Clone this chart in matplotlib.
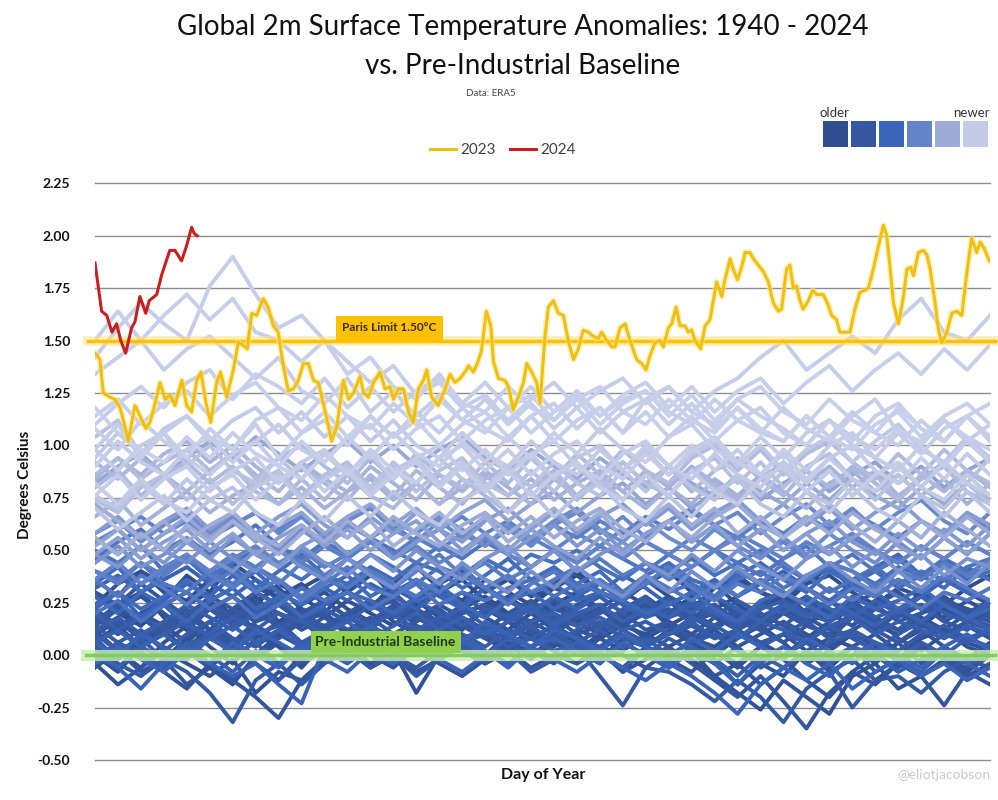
import numpy as np
import matplotlib.pyplot as plt
from matplotlib.colors import LinearSegmentedColormap

plt.rcParams['font.family'] = ['Lato', 'DejaVu Sans']

# anomalies in hundredths of a degree, 40 readings spread over the year, one string per year
t1940s = [
    "30 22 14 26 38 30 18 24 34 28 20 32 40 28 22 30 36 26 18 24 32 28 20 26 34 40 30 22 28 36 26 18 24 32 28 20 30 38 30 24",
    "36 28 40 34 24 30 44 36 26 32 38 30 22 34 42 32 26 36 30 24 34 40 30 26 36 28 22 32 38 30 24 34 42 32 28 36 30 24 32 38",
    "22 10 18 26 14 8 20 28 16 22 12 18 26 20 10 16 24 18 12 20 26 16 10 18 24 14 20 28 18 12 22 16 8 18 26 20 14 22 16 20",
    "16 24 30 18 12 22 28 20 14 24 30 22 16 20 26 18 12 22 28 20 24 16 22 30 24 18 26 20 14 22 28 20 16 24 18 12 20 26 22 18",
    "24 34 40 30 26 36 42 32 28 34 24 30 38 32 26 34 40 30 36 28 32 38 30 26 34 40 32 28 36 30 26 34 38 30 24 32 28 36 30 26",
    "28 20 14 24 30 22 16 26 32 22 18 26 20 14 24 30 22 28 20 16 24 30 22 18 26 20 28 34 24 18 22 28 20 14 24 30 22 18 26 20",
    "12 2 -6 6 14 4 -4 8 16 6 0 10 4 -2 8 14 6 0 10 4 12 6 -2 8 4 12 6 0 8 14 6 -4 2 10 4 -2 8 12 4 0",
    "6 14 2 -8 4 12 6 -2 10 16 8 2 12 6 0 10 14 8 2 10 4 12 8 2 10 16 8 4 12 6 0 8 -6 4 10 2 8 14 6 2",
    "4 -2 8 14 6 -4 2 10 4 -6 6 12 4 -2 8 14 6 10 4 12 6 0 8 14 10 4 10 2 -6 4 10 2 8 4 -4 6 12 4 -2 6",
    "0 -8 4 10 2 -6 -14 0 6 -4 4 10 2 -2 6 0 8 12 4 -2 6 10 2 -8 4 0 6 -2 -14 -4 -10 2 -6 4 -2 6 -4 2 -8 0",
]
t1950s = [
    "-4 -14 -6 2 -4 -10 -2 -18 -8 -12 -2 4 -4 2 -18 0 6 -2 4 8 2 -4 4 0 -6 2 -2 -10 -18 -26 -12 -20 -28 -10 -4 -16 -10 -2 -6 2",
    "6 14 4 -2 8 16 6 0 10 4 12 6 14 8 2 10 16 10 4 12 8 2 10 16 8 14 6 12 4 10 16 10 4 12 18 8 2 10 14 8",
    "18 10 20 14 6 16 22 12 8 18 12 20 26 16 10 18 14 22 16 8 14 20 12 18 24 16 10 18 12 20 14 8 16 22 14 10 18 12 20 16",
    "14 22 28 20 12 24 18 26 20 14 22 16 24 30 20 14 22 18 26 20 12 18 24 16 22 28 20 14 22 18 24 16 20 26 18 12 20 24 18 22",
    "8 -2 6 12 2 -6 4 -4 -12 0 6 -2 4 10 2 -4 -10 -2 6 2 -4 6 0 -6 4 -2 -8 2 -4 -14 -6 2 -8 -2 -12 -4 4 -2 -8 0",
    "-2 6 0 -8 -16 -4 -12 -2 6 -4 2 8 0 -6 4 10 2 -4 6 0 8 2 -4 6 0 -6 2 -10 -4 4 -2 -12 -20 -8 0 -6 4 -2 -10 -4",
    "-6 2 -8 -2 -14 -6 -12 -20 -30 -12 -2 4 -6 0 -8 -2 4 -4 2 -6 0 -4 2 -8 -2 4 -4 -12 -20 -10 -22 -35 -18 -8 -14 -4 -10 -24 -8 -14",
    "10 18 8 14 22 12 6 16 20 12 18 10 16 24 14 8 18 12 20 16 10 18 22 14 20 26 16 22 18 24 30 20 26 18 24 30 22 28 20 26",
    "30 24 34 26 18 28 22 30 24 16 24 30 22 26 18 24 30 20 26 22 16 24 28 20 26 18 22 28 20 14 22 26 18 24 30 20 16 24 18 22",
    "14 22 18 10 20 26 16 22 14 20 26 18 12 22 16 24 18 12 20 26 18 14 22 16 20 26 18 24 16 12 20 14 22 18 12 20 24 16 22 18",
]
t1960s = [
    "10 16 8 14 22 12 4 14 8 16 20 12 18 10 16 22 14 8 16 12 18 10 14 20 12 16 8 14 20 12 6 14 10 18 12 6 14 10 16 12",
    "22 14 20 26 18 12 22 16 24 18 12 20 26 18 22 16 20 24 18 14 22 18 24 16 20 26 18 12 20 16 22 18 12 20 24 16 20 26 18 22",
    "16 24 18 12 20 26 18 24 14 20 26 18 14 22 18 12 20 24 16 22 18 14 20 26 18 22 16 20 12 18 24 16 20 14 22 18 24 16 12 20",
    "20 12 18 24 16 22 14 20 28 18 14 20 16 22 18 12 20 24 18 22 26 20 14 22 28 20 24 18 26 20 14 22 18 24 16 12 20 26 18 14",
    "4 -4 -10 -2 -8 -18 -32 -12 -4 -14 -4 2 -6 0 -10 -2 4 -4 2 -8 -2 4 -10 -24 -6 -8 -14 -22 -12 -20 -32 -16 -8 -25 -12 -10 -18 -8 -2 -6",
    "-2 6 0 -6 4 10 2 -4 -12 -2 4 -2 6 0 -6 2 8 2 -4 4 10 4 -2 6 0 8 2 -4 4 -6 0 6 -2 4 -8 -2 6 0 -4 2",
    "14 6 12 2 10 16 8 4 12 18 10 4 12 6 14 10 4 12 8 14 6 12 16 8 4 10 14 8 12 6 10 16 8 12 6 2 10 14 8 12",
    "6 12 4 10 16 8 2 10 14 6 12 8 14 6 10 16 10 4 12 8 14 8 4 12 6 10 16 8 12 4 10 6 14 8 2 10 16 10 6 12",
    "10 2 8 -2 4 10 0 6 -4 2 8 4 10 2 6 0 8 12 4 8 2 6 12 4 8 0 6 10 2 -4 4 -2 6 10 2 -2 6 0 8 4",
    "12 18 10 16 24 18 12 20 26 18 22 16 24 18 26 20 14 22 18 24 16 22 28 20 26 18 24 20 14 22 26 20 16 24 18 22 28 20 16 24",
]
t1970s = [
    "20 12 18 24 14 10 18 12 20 16 10 18 14 20 12 18 22 14 10 16 20 14 18 12 16 10 18 14 8 16 12 6 14 18 10 16 12 8 14 10",
    "0 -6 4 -2 6 0 -8 2 -4 6 2 -4 4 10 2 -2 6 0 8 4 -2 6 0 -6 2 -4 4 -2 -10 0 -6 2 -4 4 0 -8 -2 4 -4 2",
    "6 12 4 10 2 8 14 6 12 4 10 16 8 14 20 12 18 10 16 22 14 20 24 16 22 18 26 20 16 24 20 28 22 18 26 20 28 24 18 26",
    "32 38 30 36 42 34 28 36 30 24 32 26 34 28 22 30 24 32 26 20 28 22 30 24 18 26 20 28 22 16 24 18 26 20 14 22 16 24 18 12",
    "2 -6 -16 -4 4 -4 -10 -4 -14 -23 4 10 2 -4 6 0 8 2 -6 4 8 2 -4 6 0 -6 2 -4 -14 -2 4 -4 -10 0 6 -2 -8 2 -4 -10",
    "6 0 10 4 -2 8 2 12 6 0 10 4 14 8 2 12 6 16 10 4 12 8 2 10 4 -2 8 2 10 4 -2 8 2 -4 6 0 -6 4 10 2",
    "-4 4 -2 -8 2 -4 6 0 -6 4 -2 -8 2 -4 4 -2 -8 0 -4 2 -2 -8 0 -6 -12 -4 -10 -18 -28 -14 -6 -12 -4 -16 -8 -2 -10 -4 -12 -6",
    "22 30 18 26 34 28 38 30 24 32 26 34 40 30 36 28 22 32 38 30 34 26 30 38 32 24 30 36 28 34 40 32 26 34 30 22 28 36 30 26",
    "28 20 30 24 16 26 32 22 28 18 24 30 26 20 28 34 24 18 26 30 22 28 34 26 20 24 30 22 16 26 30 24 18 28 22 26 32 24 18 22",
    "24 30 22 28 36 26 32 40 30 24 32 38 28 34 26 30 38 32 26 34 40 30 36 28 34 42 34 28 38 44 36 30 40 34 42 48 38 32 42 36",
]
t1980s = [
    "34 42 30 38 46 36 42 32 40 48 38 34 42 36 44 40 32 38 46 36 42 34 40 30 38 44 36 32 40 34 28 36 42 34 40 32 38 44 36 40",
    "50 44 52 40 46 38 44 50 42 36 44 40 48 42 34 42 38 46 40 48 44 50 42 36 44 40 46 38 44 50 42 36 44 40 34 42 38 46 40 36",
    "20 26 16 24 30 22 28 18 24 32 26 30 22 28 34 24 30 26 32 36 28 34 30 26 36 30 34 28 36 40 32 38 30 36 42 34 40 36 42 46",
    "46 54 60 50 56 48 54 62 52 46 54 48 56 50 44 52 46 54 48 42 50 44 52 46 40 48 42 50 44 38 46 52 42 48 40 46 36 44 38 42",
    "40 36 44 34 30 40 34 42 36 28 36 32 40 34 28 36 42 32 38 30 36 42 34 30 38 32 26 34 28 36 30 24 32 26 34 28 22 30 26 32",
    "36 28 38 32 24 34 40 30 36 26 34 42 32 28 36 30 38 32 24 34 40 32 36 28 34 42 32 26 34 30 38 32 24 32 28 36 30 38 32 26",
    "36 44 34 40 48 38 32 42 34 44 38 46 40 32 40 48 38 44 36 42 50 40 46 38 44 36 42 50 40 34 44 36 44 40 32 40 36 44 38 46",
    "40 34 44 38 46 40 48 42 50 44 52 46 54 48 56 50 58 52 60 54 62 56 64 58 66 60 68 62 56 64 58 66 60 68 62 56 64 58 66 60",
    "54 60 66 58 64 56 62 68 60 66 58 64 56 62 54 60 66 58 64 56 50 58 52 60 54 48 56 50 58 52 46 54 48 56 50 44 52 46 54 48",
    "36 44 34 42 48 40 46 52 44 50 42 48 54 46 52 44 50 56 48 42 50 44 52 46 54 48 42 50 56 48 54 46 52 58 50 44 52 46 54 48",
]
t1990s = [
    "54 60 50 58 64 56 62 68 58 66 56 64 70 60 54 64 56 66 60 52 62 68 58 66 56 64 70 62 68 58 66 72 62 70 60 68 74 64 58 68",
    "58 64 54 62 68 58 66 56 50 60 52 62 56 64 58 66 60 52 62 56 64 70 60 54 64 56 50 60 52 46 56 48 58 50 44 54 46 56 48 58",
    "56 48 58 50 44 54 46 40 50 42 36 46 38 32 42 34 44 36 30 40 32 42 34 28 38 30 40 32 42 34 28 38 44 36 30 40 32 42 34 44",
    "44 52 42 48 56 46 40 50 42 52 44 38 48 40 50 42 36 46 52 42 50 40 48 54 44 38 48 40 50 42 36 46 52 42 50 40 48 38 46 42",
    "48 42 52 44 54 46 56 48 42 52 58 48 56 46 54 60 50 58 48 56 62 52 60 50 58 64 54 62 52 60 50 58 64 54 48 58 50 60 52 62",
    "58 66 56 64 70 60 68 58 66 72 62 56 66 58 68 60 54 64 70 60 68 58 66 72 62 70 60 68 74 64 72 62 70 60 68 74 64 58 68 62",
    "48 56 46 54 60 50 58 48 56 62 52 60 50 58 64 54 48 58 50 60 52 46 56 48 58 64 54 62 52 60 50 58 48 56 62 52 46 56 48 58",
    "52 60 50 58 66 56 64 54 62 68 58 66 72 62 70 60 68 74 64 72 78 68 76 82 72 80 70 78 84 74 82 88 78 86 92 82 90 80 88 94",
    "82 90 96 86 94 102 94 104 96 88 96 102 92 100 90 98 104 94 88 98 90 84 94 86 80 90 82 76 86 78 72 82 74 84 76 70 80 72 82 74",
    "72 64 56 64 54 62 68 58 52 62 54 64 56 66 58 52 62 68 58 66 56 64 70 60 54 64 56 66 72 62 56 66 58 68 60 54 64 56 66 58",
]
t2000s = [
    "56 48 58 50 62 54 64 56 48 58 66 56 64 52 60 68 58 66 54 62 70 60 68 56 64 72 62 70 58 66 56 64 72 62 54 64 56 68 60 52",
    "66 74 62 70 78 68 76 82 72 80 70 78 84 74 82 72 80 86 76 84 74 82 88 78 70 80 72 84 76 86 78 70 82 88 78 86 76 84 72 82",
    "84 94 86 96 102 92 100 90 82 92 84 78 90 82 74 86 78 88 80 72 84 76 86 78 88 80 90 82 74 84 92 82 90 80 88 76 84 92 82 74",
    "92 84 94 86 78 88 96 86 78 90 82 74 86 76 88 80 72 84 90 80 88 76 86 92 82 90 78 88 94 84 76 88 80 90 82 74 86 78 88 80",
    "80 88 76 86 92 82 90 78 72 84 74 86 76 70 82 72 84 76 68 80 86 74 84 74 86 76 88 80 72 84 90 78 88 76 86 74 84 90 78 72",
    "86 94 84 92 98 88 96 84 94 100 90 82 94 84 96 86 80 92 82 94 84 96 86 98 88 82 94 100 88 98 86 96 102 92 84 96 86 98 88 82",
    "74 68 80 86 74 84 72 82 88 76 86 92 80 90 78 88 94 82 76 88 78 90 80 92 82 76 88 94 82 92 80 90 96 84 78 90 80 92 82 94",
    "104 112 96 106 90 100 88 82 94 84 96 86 80 92 82 94 84 78 90 80 92 82 76 88 78 90 80 74 86 76 88 78 72 84 74 86 76 70 82 72",
    "70 60 68 76 64 74 80 68 62 74 64 76 66 78 68 62 74 80 68 78 66 76 82 70 64 76 66 78 84 72 66 78 68 80 70 64 76 66 78 68",
    "76 70 82 72 84 74 68 80 86 74 84 90 78 88 94 82 92 80 90 96 84 94 100 88 98 86 96 102 90 100 88 98 104 92 102 110 98 92 104 94",
]
t2010s = [
    "94 106 96 108 114 102 112 118 106 116 104 114 102 112 100 94 106 96 90 102 92 86 98 88 100 90 84 96 86 80 92 82 94 84 78 90 80 92 82 76",
    "82 72 84 74 68 80 86 74 84 90 78 88 76 86 92 80 90 78 88 76 86 92 80 74 86 76 88 78 72 84 90 78 88 76 86 92 80 74 86 76",
    "76 86 74 84 90 78 88 94 82 92 98 86 96 84 94 100 88 98 86 96 102 90 84 96 102 90 100 88 98 86 96 84 94 100 88 82 94 84 96 86",
    "98 88 100 106 94 86 96 102 90 84 96 86 98 88 82 94 100 88 98 86 96 102 90 84 96 86 98 104 92 86 98 88 100 106 94 88 100 90 102 92",
    "90 102 92 86 98 104 92 102 110 98 92 104 94 106 96 90 102 92 104 94 106 96 108 98 92 104 110 98 92 104 94 106 112 100 94 106 96 108 114 102",
    "98 110 94 106 114 104 98 110 94 106 112 100 114 104 116 106 118 108 102 114 120 108 118 106 122 128 116 126 132 142 150 136 144 152 144 160 170 154 150 162",
    "142 156 168 158 150 176 190 172 156 162 150 140 130 138 124 130 118 124 112 122 130 118 126 132 120 128 116 110 122 114 108 100 112 104 98 108 100 112 102 110",
    "134 142 150 136 146 152 142 132 142 126 120 132 116 126 114 124 112 122 110 120 108 118 106 116 122 110 120 108 118 106 102 114 104 116 106 100 112 102 114 104",
    "108 98 112 102 94 108 98 112 118 106 116 104 114 104 112 100 110 116 104 114 102 112 118 106 116 104 114 102 112 118 106 100 112 102 114 120 108 102 114 104",
    "110 120 128 118 130 136 122 134 128 120 132 118 128 116 126 132 120 130 118 128 116 126 114 124 130 118 128 116 126 132 120 130 138 126 136 144 134 146 136 148",
]
t2020s = [
    "150 164 150 162 172 160 170 154 150 140 150 134 142 128 122 134 120 116 128 118 112 124 114 122 126 116 110 122 112 106 118 108 102 114 122 106 102 112 104 98",
    "118 106 98 92 104 94 106 96 90 102 92 104 110 98 108 114 102 112 118 106 116 122 110 120 126 114 124 112 122 128 116 110 122 112 106 118 108 102 114 120",
    "114 122 110 120 126 114 124 130 118 112 124 114 108 120 110 122 112 106 118 124 112 122 128 116 110 122 112 106 118 108 102 114 104 98 110 116 104 114 120 110",
]

days_2023 = [1, 3, 4.4, 7.1, 9.1, 11.2, 13.2, 14.6, 16, 17.3, 19.4, 21.7, 23.4, 25.5, 27.5, 29.6, 31.6, 33.6, 36.4, 38.4,
             40.4, 42.5, 44.2, 46.3, 48.2, 50.6, 52.2, 54.7, 57.4, 59.4, 61.2, 63.1, 64.9, 66.9, 69.6, 71.6, 73.7, 75.7, 77.8, 79.8,
             81.9, 83.9, 86, 88, 90.1, 92.1, 94.9, 97.5, 99.6, 102.3, 104.4, 106.4, 109.1, 110.5, 112.5, 114.6, 117.2, 119.3, 121.3, 122.7,
             124.7, 126.8, 128.8, 130.8, 132.9, 134.9, 136.3, 138.3, 141, 143.8, 145.8, 147.8, 149.9, 151.9, 153.3, 155.3, 156.9, 158.6, 160.6, 162.4,
             163.5, 165.5, 168.2, 169.6, 171.6, 173.6, 175.7, 177.1, 179.1, 181.1, 182.5, 184.5, 185.9, 187.9, 190, 192, 194, 196.1, 198.1, 200.1,
             202.2, 204.2, 206.3, 207.6, 209.7, 211.7, 213.1, 215.1, 217.2, 219.2, 221.9, 224, 225.7, 227.4, 229.4, 231.4, 232.8, 234.8, 236.2, 238,
             239.6, 241.6, 243, 244.3, 245.7, 248, 249.8, 251.8, 254.5, 256.6, 257.9, 260, 261.3, 263, 264.7, 266.1, 268.1, 269.5, 271.5, 273.5,
             275.6, 277.6, 279.7, 281, 283, 284.4, 285.8, 287.1, 288.5, 289.8, 291.9, 293.7, 295.3, 298, 300, 301.4, 303.4, 304.8, 306.8, 308.9,
             310.9, 313, 315, 316.4, 318.4, 320.5, 322.5, 323.9, 325.3, 326.6, 328.7, 330.7, 332.1, 333.7, 334.8, 336.8, 338.9, 340.2, 341.6, 343.6,
             345, 346.3, 348.4, 350.4, 352.5, 354.5, 356.3, 358.5, 360.6, 362, 363.6, 365.7]
temp_2023 = [1.44, 1.41, 1.25, 1.23, 1.22, 1.18, 1.09, 1.02, 1.11, 1.19, 1.14, 1.08, 1.11, 1.20, 1.30, 1.22, 1.24, 1.19, 1.31, 1.19,
             1.16, 1.31, 1.35, 1.20, 1.11, 1.30, 1.35, 1.23, 1.36, 1.49, 1.48, 1.46, 1.63, 1.62, 1.70, 1.66, 1.57, 1.54, 1.38, 1.26,
             1.27, 1.31, 1.39, 1.39, 1.31, 1.30, 1.16, 1.02, 1.09, 1.31, 1.22, 1.25, 1.33, 1.25, 1.23, 1.30, 1.35, 1.27, 1.28, 1.22,
             1.27, 1.27, 1.16, 1.11, 1.27, 1.31, 1.36, 1.23, 1.19, 1.27, 1.34, 1.30, 1.32, 1.35, 1.38, 1.35, 1.39, 1.45, 1.64, 1.57,
             1.40, 1.32, 1.31, 1.28, 1.17, 1.23, 1.30, 1.39, 1.35, 1.30, 1.20, 1.52, 1.66, 1.69, 1.63, 1.62, 1.50, 1.41, 1.46, 1.55,
             1.54, 1.52, 1.51, 1.54, 1.50, 1.47, 1.47, 1.56, 1.58, 1.50, 1.41, 1.39, 1.36, 1.43, 1.49, 1.50, 1.47, 1.56, 1.58, 1.66,
             1.57, 1.57, 1.54, 1.55, 1.50, 1.46, 1.57, 1.60, 1.78, 1.71, 1.79, 1.89, 1.84, 1.79, 1.85, 1.92, 1.92, 1.89, 1.86, 1.83,
             1.78, 1.68, 1.64, 1.65, 1.84, 1.86, 1.75, 1.76, 1.69, 1.65, 1.69, 1.74, 1.72, 1.72, 1.67, 1.62, 1.60, 1.54, 1.54, 1.54,
             1.65, 1.73, 1.74, 1.75, 1.84, 1.95, 2.05, 2.00, 1.84, 1.68, 1.58, 1.71, 1.84, 1.85, 1.81, 1.92, 1.93, 1.91, 1.84, 1.68,
             1.55, 1.49, 1.54, 1.63, 1.64, 1.62, 1.80, 1.99, 1.92, 1.97, 1.94, 1.88]

days_2024 = [1, 3.7, 5.8, 7.9, 9.8, 11.5, 13.5, 15.9, 17.3, 19.3, 21.7, 23.1, 26.2, 28.1, 29.5, 31.5, 33.6, 36.3, 38.3, 40.4, 41.5, 42.7]
temp_2024 = [1.87, 1.64, 1.62, 1.54, 1.58, 1.50, 1.44, 1.56, 1.59, 1.71, 1.63, 1.69, 1.72, 1.81, 1.86, 1.93, 1.93, 1.88, 1.95, 2.04, 2.01, 2.00]

swatches = ['#2e4e8e', '#34579f', '#3a65b8', '#6384c9', '#9dabd6', '#c3cbe6']
swatch_stops = [0.0, 0.25, 0.45, 0.6, 0.72, 0.86]
paris = 1.5
baseline = 0.0
yticks = [-0.5, -0.25, 0.0, 0.25, 0.5, 0.75, 1.0, 1.25, 1.5, 1.75, 2.0, 2.25]

fig = plt.figure(figsize=(9.98, 8), dpi=100)
ax = fig.add_axes([0.0952, 0.05, 0.8968, 0.7209])

rows = t1940s + t1950s + t1960s + t1970s + t1980s + t1990s + t2000s + t2010s + t2020s
cmap = LinearSegmentedColormap.from_list('age', list(zip(swatch_stops + [1.0], swatches + ['#c8cfea'])))
for i, s in enumerate(rows):
    v = np.array(s.split(), dtype=float) / 100
    ax.plot(np.linspace(1, 366, len(v)), v, color=cmap(i / (len(rows) - 1)), lw=2.8, zorder=2,
            solid_joinstyle='round')

# reference lines with a soft glow
ax.axhline(paris, xmin=-0.008, xmax=1.006, color='#ffe27a', lw=7, alpha=0.55, zorder=3, clip_on=False)
ax.axhline(paris, xmin=-0.008, xmax=1.006, color='#ffc000', lw=2.5, zorder=3, clip_on=False)
ax.axhline(baseline, xmin=-0.01, xmax=1.006, color='#c9ecb0', lw=8, alpha=0.8, zorder=3, clip_on=False)
ax.axhline(baseline, xmin=-0.01, xmax=1.006, color='#7fcf5a', lw=2.5, zorder=3, clip_on=False)

ax.plot(days_2023, temp_2023, color='#ffe58a', lw=4.5, alpha=0.55, zorder=4)
l23, = ax.plot(days_2023, temp_2023, color='#f0c010', lw=2.2, zorder=5)
l24, = ax.plot(days_2024, temp_2024, color='#c82020', lw=2.2, zorder=6)

ax.text(121, 1.562, 'Paris Limit 1.50°C', ha='center', va='center', fontsize=8.5, fontweight='bold',
        color='#3a2a00', zorder=7, bbox=dict(boxstyle='square,pad=0.55', fc='#ffc000', ec='none'))
ax.text(119.5, 0.063, 'Pre-Industrial Baseline', ha='center', va='center', fontsize=10, fontweight='bold',
        color='#1e3a0e', zorder=7, bbox=dict(boxstyle='square,pad=0.35', fc='#92d050', ec='none'))

ax.set_xlim(1, 366)
ax.set_ylim(-0.5, 2.25)
ax.set_xticks([])
ax.set_yticks(yticks)
ax.set_yticklabels([f'{t:.2f}' for t in yticks], fontsize=10, fontweight='bold', color='#111111')
ax.tick_params(axis='y', length=0, pad=18)
ax.grid(axis='y', color='#8c8c8c', lw=1)
ax.set_axisbelow(True)
for gl in ax.get_ygridlines():
    gl.set_clip_on(False)
for sp in ax.spines.values():
    sp.set_visible(False)

fig.text(0.524, 1 - 27 / 800, 'Global 2m Surface Temperature Anomalies: 1940 - 2024', ha='center', va='center',
         fontsize=20, color='#111111')
fig.text(0.524, 1 - 66 / 800, 'vs. Pre-Industrial Baseline', ha='center', va='center', fontsize=20, color='#111111')
fig.text(0.492, 1 - 93 / 800, 'Data: ERA5', ha='center', va='center', fontsize=7, color='#444444')
fig.text(25 / 998, 1 - 485 / 800, 'Degrees Celsius', rotation=90, ha='center', va='center', fontsize=11,
         fontweight='bold', color='#111111')
fig.text(0.544, 1 - 775 / 800, 'Day of Year', ha='center', va='center', fontsize=11.5, fontweight='bold',
         color='#111111')
fig.text(990 / 998, 1 - 775 / 800, '@eliotjacobson', ha='right', va='center', fontsize=10, color='#c9c9c9')

fig.legend([l23, l24], ['2023', '2024'], loc='center', bbox_to_anchor=(503 / 998, 1 - 150 / 800), ncol=2,
           frameon=False, fontsize=11, handlelength=1.7, handletextpad=0.3, columnspacing=0.9,
           labelcolor='#404040')

# older / newer colour key
kax = fig.add_axes([823 / 998, 1 - 147 / 800, 165 / 998, 26 / 800])
kax.bar(range(len(swatches)), 1, width=0.9, color=swatches)
kax.set_xlim(-0.45, 5.45)
kax.set_ylim(0, 1)
kax.axis('off')
fig.text(820 / 998, 1 - 113 / 800, 'older', ha='left', va='center', fontsize=9.5, color='#333333')
fig.text(990 / 998, 1 - 113 / 800, 'newer', ha='right', va='center', fontsize=9.5, color='#333333')

fig.savefig('out.png', dpi=100)
